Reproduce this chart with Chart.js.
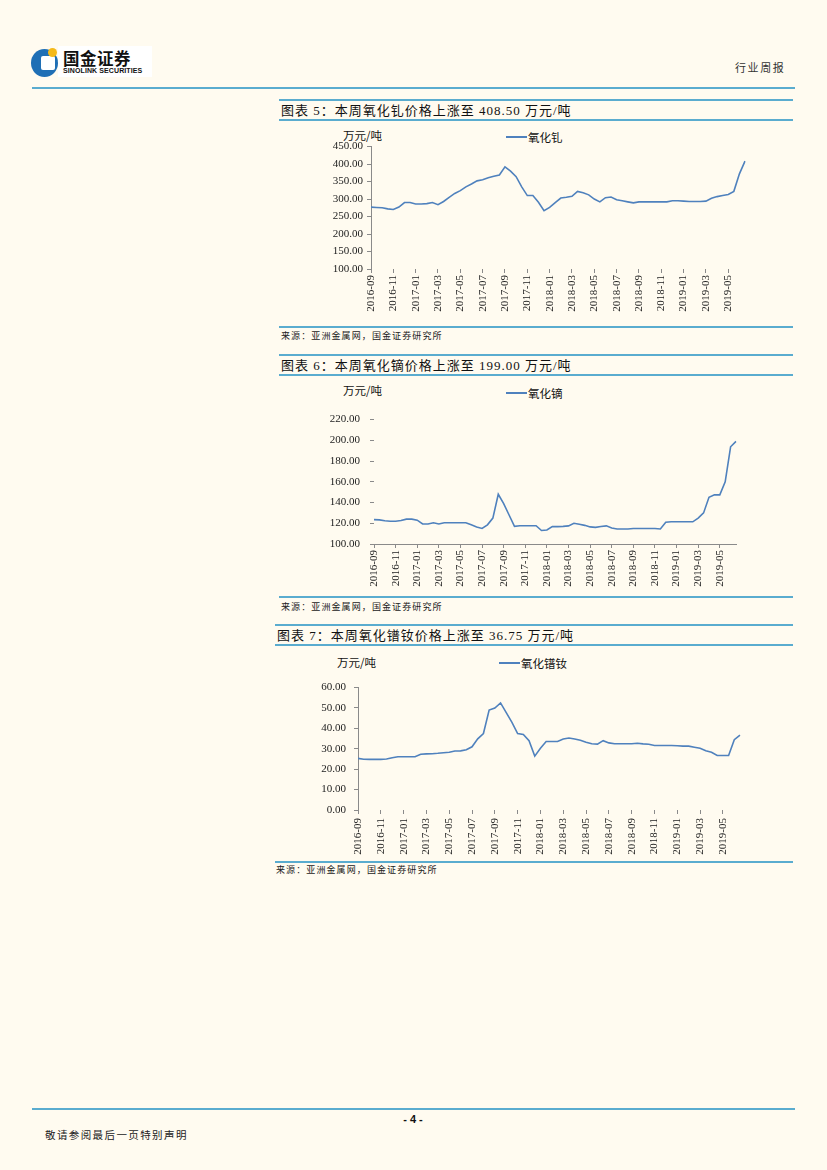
<!DOCTYPE html>
<html><head><meta charset="utf-8">
<script src="https://cdn.jsdelivr.net/npm/chart.js@4.4.0/dist/chart.umd.min.js"></script>
<style>
html,body{margin:0;padding:0;background:#fffbf0;}
#page{position:relative;width:827px;height:1170px;background:#fffbf0;overflow:hidden;}
.abs{position:absolute;white-space:nowrap;}
.hl{position:absolute;height:2px;background:#5aaccf;}
.title{font-family:"Liberation Serif","Noto Sans CJK SC",serif;font-size:13px;letter-spacing:1px;color:#111;line-height:13px;}
.src{font-family:"Noto Sans CJK SC",sans-serif;font-size:9px;letter-spacing:1.1px;color:#222;line-height:9px;}
.unit{font-family:"Noto Sans CJK SC",sans-serif;font-size:11.5px;color:#111;line-height:12px;}
.legline{position:absolute;height:2px;background:#4f81bd;}
canvas.c{position:absolute;}
</style></head>
<body><div id="page">
  <!-- header -->
  <div class="abs" style="left:58px;top:46px;width:94px;height:31px;background:#fff;"></div>
  <div class="abs" style="left:31px;top:49px;width:27px;height:28px;border-radius:50%;background:#1f6fb5;"></div>
  <div class="abs" style="left:41px;top:56px;width:14px;height:14px;border-radius:2px;background:#fff;"></div>
  <div class="abs" style="left:48px;top:48px;width:9px;height:9px;border-radius:50%;background:#f5b919;"></div>
  <div class="abs" style="left:63px;top:49px;font-family:'Noto Sans CJK SC';font-weight:bold;font-size:16.5px;line-height:18px;color:#111;letter-spacing:0.5px;">国金证券</div>
  <div class="abs" style="left:63px;top:67px;font-family:'Liberation Sans';font-weight:bold;font-size:7px;line-height:8px;color:#111;letter-spacing:0.1px;">SINOLINK SECURITIES</div>
  <div class="abs" style="left:735px;top:61px;font-family:'Noto Sans CJK SC';font-size:11px;line-height:12px;color:#333;letter-spacing:1.6px;">行业周报</div>
  <div class="hl" style="left:32px;top:87px;width:763px;"></div>

  <!-- section 1 -->
  <div class="hl" style="left:279px;top:99px;width:514px;"></div>
  <div class="abs title" style="left:281px;top:104px;">图表 5：本周氧化钆价格上涨至 408.50 万元/吨</div>
  <div class="hl" style="left:279px;top:119px;width:514px;"></div>
  <div class="abs unit" style="left:343px;top:129px;">万元/吨</div>
  <div class="legline" style="left:506px;top:136px;width:21px;"></div>
  <div class="abs unit" style="left:528px;top:131px;">氧化钆</div>
  <canvas class="c" id="c1" width="470" height="183" style="left:290px;top:136px;"></canvas>
  <div class="hl" style="left:279px;top:326px;width:514px;"></div>
  <div class="abs src" style="left:281px;top:331px;">来源：亚洲金属网，国金证券研究所</div>

  <!-- section 2 -->
  <div class="hl" style="left:279px;top:354px;width:514px;"></div>
  <div class="abs title" style="left:281px;top:359px;">图表 6：本周氧化镝价格上涨至 199.00 万元/吨</div>
  <div class="hl" style="left:279px;top:374px;width:514px;"></div>
  <div class="abs unit" style="left:343px;top:384px;">万元/吨</div>
  <div class="legline" style="left:506px;top:392px;width:21px;"></div>
  <div class="abs unit" style="left:528px;top:387px;">氧化镝</div>
  <canvas class="c" id="c2" width="461" height="191" style="left:290px;top:403px;"></canvas>
  <div class="hl" style="left:279px;top:596px;width:514px;"></div>
  <div class="abs src" style="left:281px;top:602px;">来源：亚洲金属网，国金证券研究所</div>

  <!-- section 3 -->
  <div class="hl" style="left:275px;top:624px;width:518px;"></div>
  <div class="abs title" style="left:277px;top:629px;">图表 7：本周氧化镨钕价格上涨至 36.75 万元/吨</div>
  <div class="hl" style="left:275px;top:644px;width:518px;"></div>
  <div class="abs unit" style="left:337px;top:656px;">万元/吨</div>
  <div class="legline" style="left:499px;top:662px;width:21px;"></div>
  <div class="abs unit" style="left:521px;top:657px;">氧化镨钕</div>
  <canvas class="c" id="c3" width="475" height="187" style="left:280px;top:673px;"></canvas>
  <div class="hl" style="left:275px;top:861px;width:518px;"></div>
  <div class="abs src" style="left:276px;top:865px;">来源：亚洲金属网，国金证券研究所</div>

  <!-- footer -->
  <div class="hl" style="left:32px;top:1108px;width:763px;"></div>
  <div class="abs" style="left:398px;top:1113px;width:30px;text-align:center;font-family:'Liberation Sans';font-weight:bold;font-size:11px;line-height:12px;color:#111;">- 4 -</div>
  <div class="abs" style="left:45px;top:1129px;font-family:'Noto Sans CJK SC';font-size:10.5px;line-height:12px;color:#222;letter-spacing:1.4px;">敬请参阅最后一页特别声明</div>
</div>
<script>
// Half-monthly observation dates
const dates = [
 '2016-09-01','2016-09-16','2016-10-01','2016-10-16','2016-11-01','2016-11-16','2016-12-01','2016-12-16',
 '2017-01-01','2017-01-16','2017-02-01','2017-02-16','2017-03-01','2017-03-16','2017-04-01','2017-04-16',
 '2017-05-01','2017-05-16','2017-06-01','2017-06-16','2017-07-01','2017-07-16','2017-08-01','2017-08-16',
 '2017-09-01','2017-09-16','2017-10-01','2017-10-16','2017-11-01','2017-11-16','2017-12-01','2017-12-16',
 '2018-01-01','2018-01-16','2018-02-01','2018-02-16','2018-03-01','2018-03-16','2018-04-01','2018-04-16',
 '2018-05-01','2018-05-16','2018-06-01','2018-06-16','2018-07-01','2018-07-16','2018-08-01','2018-08-16',
 '2018-09-01','2018-09-16','2018-10-01','2018-10-16','2018-11-01','2018-11-16','2018-12-01','2018-12-16',
 '2019-01-01','2019-01-16','2019-02-01','2019-02-16','2019-03-01','2019-03-16','2019-04-01','2019-04-16',
 '2019-05-01','2019-05-16','2019-06-01','2019-06-16'
];
const tickLabels = ['2016-09','2016-11','2017-01','2017-03','2017-05','2017-07','2017-09','2017-11',
 '2018-01','2018-03','2018-05','2018-07','2018-09','2018-11','2019-01','2019-03','2019-05'];

// 氧化钆 (万元/吨)
const gdOxide = [277,276,275,272,270,277,290,290,286,286,287,290,284,293,305,316,
 324,335,343,352,355,361,365,369,392,380,364,335,310,310,291,267,
 276,290,303,305,308,322,318,312,300,292,304,306,298,295,292,289,
 292,292,292,292,292,292,295,295,294,293,293,293,294,302,307,310,
 313,322,372,408.5];
// 氧化镝 (万元/吨)
const dyOxide = [123.5,123.3,122.5,122,122,122.6,124,124,123,119.3,119.3,120.5,119.3,120.5,120.5,120.5,
 120.5,120.5,118.5,116.5,115,118.5,125,148,139,128,117,117.6,117.6,117.6,117.6,113,
 113.5,116.8,116.8,117,117.5,120,119,118,116.5,116,116.8,117.5,115.5,114.5,114.5,114.5,
 115,115,115,115,115,114.5,121,121.4,121.4,121.4,121.4,121.4,125,130,145,147.4,
 147.4,160,193.8,199];
// 氧化镨钕 (万元/吨)
const prndOxide = [25.3,24.9,24.8,24.8,24.8,25,25.6,26.1,26.1,26.1,26.1,27.3,27.5,27.6,27.8,28.1,
 28.3,28.9,29,29.5,31,34.9,37.5,49,50,52.5,47.7,43,37.5,37,34,26.4,
 30.3,33.6,33.6,33.6,34.8,35.3,34.8,34.2,33.2,32.5,32.3,34,32.9,32.5,32.5,32.5,
 32.5,32.7,32.4,32.2,31.6,31.6,31.6,31.6,31.5,31.3,31.3,30.8,30.3,29,28.3,26.7,
 26.7,26.7,34.5,36.75];

const LINE = '#4f81bd';
const AXIS = '#8a8a8a';
const TXT = '#222';
const tickFont = {family:'Liberation Serif', size:11};

function xLabel(value, index){
  const d = dates[index];
  const ym = d.slice(0,7);
  return (d.endsWith('-01') && tickLabels.includes(ym)) ? ym : null;
}

function makeChart(id, name, values, cfg){
  new Chart(document.getElementById(id), {
    type:'line',
    data:{labels:dates, datasets:[{label:name, data:values, borderColor:LINE, borderWidth:1.6,
      pointRadius:0, tension:0, fill:false}]},
    options:{
      responsive:false, animation:false, devicePixelRatio:1,
      layout:{padding:{top:10,right:15,left:0,bottom:0}},
      plugins:{legend:{display:false}, tooltip:{enabled:false}, title:{display:false}},
      scales:{
        x:{type:'category', offset:false,
          grid:{display:true, drawOnChartArea:false, drawTicks:true, tickLength:4,
            tickColor:(c)=> (c.tick && c.tick.label) ? AXIS : 'rgba(0,0,0,0)', color:AXIS},
          border:{display:cfg.xBorder, color:AXIS, width:1},
          ticks:{autoSkip:false, maxRotation:90, minRotation:90, padding:cfg.xPad, font:tickFont, color:TXT, callback:xLabel},
          afterFit:(s)=>{s.height=50;}
        },
        y:{min:cfg.min, max:cfg.max,
          grid:{display:true, drawOnChartArea:false, drawTicks:true, tickLength:4, color:AXIS},
          border:{display:cfg.yBorder, color:AXIS, width:1},
          ticks:{stepSize:cfg.step, padding:cfg.yPad, font:tickFont, color:TXT, callback:(v)=>Number(v).toFixed(2)},
          afterFit:(s)=>{s.width=cfg.yWidth;}
        }
      }
    }
  });
}

makeChart('c1','氧化钆',gdOxide,{min:100,max:450,step:50,yWidth:81,yPad:4,xPad:2,xBorder:false,yBorder:true});
makeChart('c2','氧化镝',dyOxide,{min:100,max:220,step:20,yWidth:84,yPad:10,xPad:2,xBorder:true,yBorder:false});
makeChart('c3','氧化镨钕',prndOxide,{min:0,max:60,step:10,yWidth:78,yPad:8,xPad:4,xBorder:false,yBorder:true});
</script>
</body></html>
